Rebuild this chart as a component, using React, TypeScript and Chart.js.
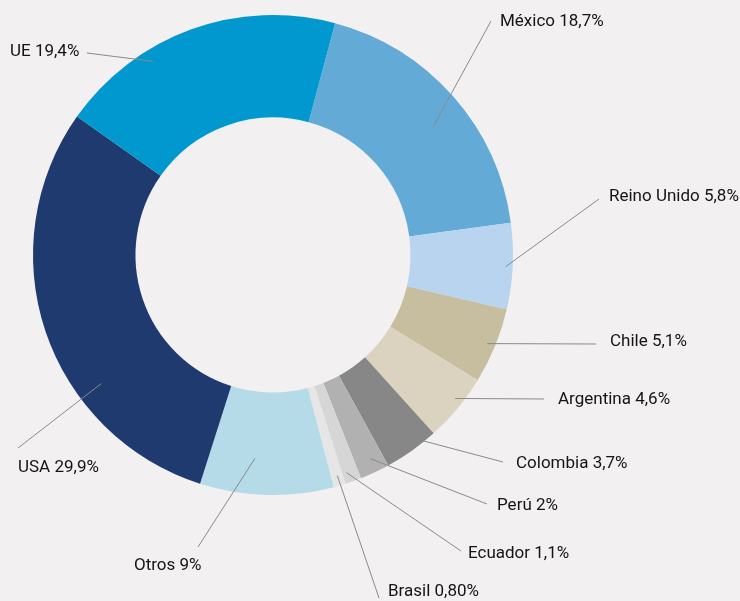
import React, { useEffect, useRef } from "react";
import { Chart, registerables } from "chart.js";

Chart.register(...registerables);

const categories = [
  "México",
  "Reino Unido",
  "Chile",
  "Argentina",
  "Colombia",
  "Perú",
  "Ecuador",
  "Brasil",
  "Otros",
  "USA",
  "UE",
];
const shares = [18.7, 5.8, 5.1, 4.6, 3.7, 2, 1.1, 0.8, 9, 29.9, 19.4];
const shareLabels = ["18,7%", "5,8%", "5,1%", "4,6%", "3,7%", "2%", "1,1%", "0,80%", "9%", "29,9%", "19,4%"];
const colors = [
  "#64aad7",
  "#b8d4ee",
  "#c7bd9f",
  "#dbd3c0",
  "#878787",
  "#b1b1b1",
  "#d6d6d6",
  "#e6e6e6",
  "#b5dbe9",
  "#1e3a6e",
  "#0098cf",
];

// Leader-line layout: t = position along slice, rf = position across ring,
// (ex, ey) = line end, (tx, ty) = label text anchor (left, middle)
const labelLayout = [
  { t: 0.54, rf: 0.66, ex: 491, ey: 21, tx: 500, ty: 22 },
  { t: 0.51, rf: 0.93, ex: 599, ey: 199, tx: 609, ty: 197 },
  { t: 0.51, rf: 0.92, ex: 596, ey: 344, tx: 610, ty: 342 },
  { t: 0.41, rf: 0.92, ex: 544, ey: 399, tx: 558, ty: 400 },
  { t: 0.23, rf: 0.99, ex: 503, ey: 462, tx: 516, ty: 464 },
  { t: 0.44, rf: 0.86, ex: 487, ey: 504, tx: 497, ty: 506 },
  { t: 0.72, rf: 0.9, ex: 461, ey: 551, tx: 468, ty: 554 },
  { t: 0.45, rf: 0.9, ex: 379, ey: 598, tx: 388, ty: 592 },
  { t: 0.61, rf: 0.65, ex: 198, ey: 547, tx: 134, ty: 566 },
  { t: 0.33, rf: 0.75, ex: 18, ey: 448, tx: 18, ty: 468 },
  { t: 0.33, rf: 0.88, ex: 87, ey: 53, tx: 10, ty: 52 },
];

const leaderPlugin = {
  id: "leaderLabels",
  afterDatasetsDraw(chart: any) {
    const ctx = chart.ctx;
    const meta = chart.getDatasetMeta(0);
    ctx.save();
    meta.data.forEach((arc: any, i: number) => {
      const L = labelLayout[i];
      const { x, y, startAngle, endAngle, innerRadius, outerRadius } = arc.getProps(
        ["x", "y", "startAngle", "endAngle", "innerRadius", "outerRadius"],
        true
      );
      const a = startAngle + L.t * (endAngle - startAngle);
      const r = innerRadius + L.rf * (outerRadius - innerRadius);
      const sx = x + r * Math.cos(a);
      const sy = y + r * Math.sin(a);
      ctx.beginPath();
      ctx.strokeStyle = "#8a8a8a";
      ctx.lineWidth = 1;
      ctx.moveTo(sx, sy);
      ctx.lineTo(L.ex, L.ey);
      ctx.stroke();
      ctx.fillStyle = "#141414";
      ctx.font = "17px Roboto, 'Noto Sans', sans-serif";
      ctx.textAlign = "left";
      ctx.textBaseline = "middle";
      ctx.fillText(categories[i] + " " + shareLabels[i], L.tx, L.ty);
    });
    ctx.restore();
  },
};

export default function App() {
  const ref = useRef<HTMLCanvasElement>(null);
  useEffect(() => {
    if (!ref.current) return;
    const chart = new Chart(ref.current, {
      type: "doughnut",
      data: {
        labels: categories,
        datasets: [
          {
            data: shares,
            backgroundColor: colors,
            borderWidth: 0,
          },
        ],
      },
      options: {
        responsive: false,
        animation: false,
        rotation: 15,
        cutout: "57.3%",
        layout: { padding: { left: 33, right: 227, top: 15, bottom: 106 } },
        plugins: {
          legend: { display: false },
          tooltip: { enabled: false },
        },
      },
      plugins: [leaderPlugin],
    });
    return () => chart.destroy();
  }, []);
  return (
    <div
      style={{
        position: "fixed",
        left: 0,
        top: 0,
        width: 740,
        height: 601,
        background: "#f2f0f1",
      }}
    >
      <canvas ref={ref} width={740} height={601} style={{ display: "block" }} />
    </div>
  );
}
